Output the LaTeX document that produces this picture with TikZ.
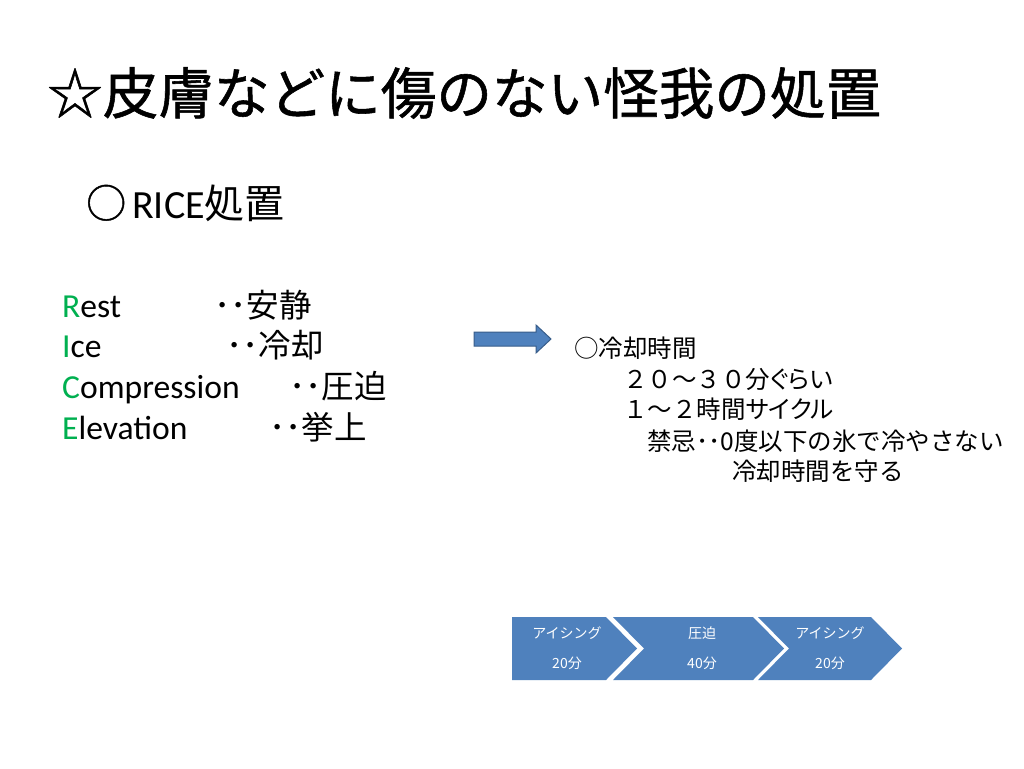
\documentclass[tikz,border=0pt]{standalone}
\usepackage{fontspec}
\setmainfont{Carlito}
\newfontfamily\jp{Noto Sans CJK JP}
\newfontfamily\jptitle{Noto Sans CJK JP}[FakeBold=1]
\newfontfamily\jpp{Noto Sans CJK JP}[RawFeature=+palt]
\newfontfamily\lat{Carlito}
\definecolor{rgreen}{RGB}{0,176,80}
\definecolor{sblue}{RGB}{79,129,189}
\definecolor{sborder}{RGB}{56,93,138}
\begin{document}
\begin{tikzpicture}[x=1pt,y=-1pt,
  txt/.style={inner sep=0pt, anchor=base west},
  titletxt/.style={txt, font=\jptitle\fontsize{55.6}{60}\selectfont},
  subtxt/.style={txt, font=\fontsize{40}{44}\selectfont},
  ricelat/.style={txt, font=\lat\fontsize{33.6}{36}\selectfont},
  ricejp/.style={txt, font=\jp\fontsize{32.5}{36}\selectfont},
  righttxt/.style={txt, font=\jp\fontsize{24.5}{28}\selectfont},
  chevtxt/.style={inner sep=0pt, anchor=base, text=white, font=\jp\fontsize{14}{16}\selectfont},
  chev/.style={fill=sblue},
  blockarrow/.style={fill=sblue, draw=sborder, line width=1pt}
]
\useasboundingbox[fill=white] (0,0) rectangle (1024,768);

% title
\node[titletxt] (title) at (47,114) {☆皮膚などに傷のない怪我の処置};

% subtitle
\node[subtxt] (subcirc) at (86,218) {\jptitle ○};
\node[subtxt] (subrice) at (132,218) {{\lat RICE}{\jp 処置}};

% RICE list
\node[ricelat] (rest) at (62,317.5) {\textcolor{rgreen}{R}est};
\node[ricelat] (ice) at (62,357.5) {\textcolor{rgreen}{I}ce};
\node[ricelat] (comp) at (62,398.5) {\textcolor{rgreen}{C}ompression};
\node[ricelat] (elev) at (62,439.5) {\textcolor{rgreen}{E}levation};
\node[ricejp] (restjp) at (214,317.5) {･･安静};
\node[ricejp] (icejp) at (226,357.5) {･･冷却};
\node[ricejp] (compjp) at (289,398.5) {･･圧迫};
\node[ricejp] (elevjp) at (269,439.5) {･･挙上};

% block arrow
\path[blockarrow] (474,332) -- (536,332) -- (536,325) -- (551,339) -- (536,353) -- (536,346) -- (474,346) -- cycle;

% right text
\node[righttxt] (r1) at (574,357) {○冷却時間};
\node[righttxt] (r2) at (623,388) {２０～３０分{\jpp ぐらい}};
\node[righttxt] (r3) at (623,418) {１～２時間{\jpp サイクル}};
\node[righttxt] (r4) at (647,450) {禁忌･･0度以下の氷で冷やさない};
\node[righttxt] (r5) at (732,480) {冷却時間を守る};

% chevrons
\path[chev] (512,617) -- (606,617) -- (637,648.5) -- (606,680) -- (512,680) -- cycle;
\path[chev] (613,617) -- (753,617) -- (784,648.5) -- (753,680) -- (613,680) -- (644,648.5) -- cycle;
\path[chev] (758,617) -- (871,617) -- (902,648.5) -- (871,680) -- (758,680) -- (789,648.5) -- cycle;

\node[chevtxt] (c1a) at (567,638.3) {アイシング};
\node[chevtxt] (c1b) at (567,668.3) {20分};
\node[chevtxt] (c2a) at (702,638.3) {圧迫};
\node[chevtxt] (c2b) at (702,668.3) {40分};
\node[chevtxt] (c3a) at (830,638.3) {アイシング};
\node[chevtxt] (c3b) at (830,668.3) {20分};
\end{tikzpicture}
\end{document}
